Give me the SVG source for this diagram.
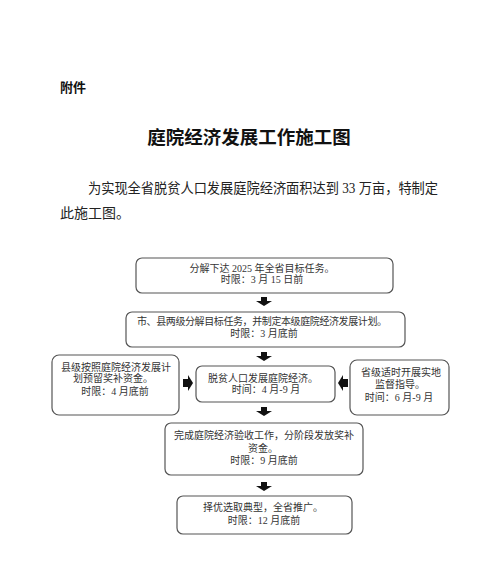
<svg xmlns="http://www.w3.org/2000/svg" width="500" height="565" viewBox="0 0 500 565">
<defs>
<style>
.bg{fill:#ffffff}
.box{fill:#ffffff;stroke:#555;stroke-width:1.2}
.arr{fill:#111}
.t{font-family:"Liberation Serif","Noto Sans CJK SC",serif;font-size:10px;fill:#333;text-anchor:middle}
.hd{font-family:"Liberation Sans","Noto Sans CJK SC",sans-serif;font-size:13px;font-weight:bold;fill:#111}
.ti{font-family:"Liberation Serif","Noto Sans CJK SC",serif;font-size:18.5px;font-weight:bold;fill:#111;text-anchor:middle}
.bd{font-family:"Liberation Serif","Noto Sans CJK SC",serif;font-size:14px;fill:#222}
</style>
</defs>
<rect class="bg" x="0" y="0" width="500" height="565"/>
<text class="hd" x="60" y="91.5">附件</text>
<text class="ti" x="249" y="143.5">庭院经济发展工作施工图</text>
<text class="bd" x="88" y="193" textLength="350" lengthAdjust="spacingAndGlyphs">为实现全省脱贫人口发展庭院经济面积达到 33 万亩，特制定</text>
<text class="bd" x="60" y="218">此施工图。</text>

<g id="n1">
<rect class="box" x="136" y="258" width="257" height="35" rx="6"/>
<text class="t" x="262" y="272">分解下达 2025 年全省目标任务。</text>
<text class="t" x="262" y="282.5">时限：3 月 15 日前</text>
</g>
<g id="n2">
<rect class="box" x="126" y="312" width="279" height="35" rx="6"/>
<text class="t" x="262" y="325" textLength="250" lengthAdjust="spacing">市、县两级分解目标任务，并制定本级庭院经济发展计划。</text>
<text class="t" x="264" y="337">时限：3 月底前</text>
</g>
<g id="n3">
<rect class="box" x="52" y="355" width="127" height="60" rx="7"/>
<text class="t" x="116" y="370.5">县级按照庭院经济发展计</text>
<text class="t" x="113" y="382">划预留奖补资金。</text>
<text class="t" x="115" y="394.5">时限：4 月底前</text>
</g>
<g id="n4">
<rect class="box" x="196" y="366" width="139" height="36" rx="6"/>
<text class="t" x="263" y="382">脱贫人口发展庭院经济。</text>
<text class="t" x="266" y="392.5">时间：4 月-9 月</text>
</g>
<g id="n5">
<rect class="box" x="350" y="360" width="99" height="55" rx="7"/>
<text class="t" x="401" y="375.5">省级适时开展实地</text>
<text class="t" x="400" y="388">监督指导。</text>
<text class="t" x="399" y="400.8">时间：6 月-9 月</text>
</g>
<g id="n6">
<rect class="box" x="165" y="423" width="198" height="52" rx="6"/>
<text class="t" x="264" y="439">完成庭院经济验收工作，分阶段发放奖补</text>
<text class="t" x="263" y="451.5">资金。</text>
<text class="t" x="264" y="464">时限：9 月底前</text>
</g>
<g id="n7">
<rect class="box" x="177" y="496" width="175" height="38" rx="6"/>
<text class="t" x="263" y="511">择优选取典型，全省推广。</text>
<text class="t" x="264" y="523.5">时限：12 月底前</text>
</g>

<g id="connectors">
<path class="arr" d="M261,297 L267,297 L267,301 L272,301 L264,306 L256,301 L261,301 Z"/>
<path class="arr" d="M261,352 L267,352 L267,356 L272,356 L264,361 L256,356 L261,356 Z"/>
<path class="arr" d="M261,407 L267,407 L267,411 L272,411 L264,416 L256,411 L261,411 Z"/>
<path class="arr" d="M261,482 L267,482 L267,486 L272,486 L264,491 L256,486 L261,486 Z"/>
<path class="arr" d="M183,379 L188,379 L188,375 L193,383 L188,391 L188,387 L183,387 Z"/>
<path class="arr" d="M348,379 L343,379 L343,375 L338,383 L343,391 L343,387 L348,387 Z"/>
</g>
</svg>
